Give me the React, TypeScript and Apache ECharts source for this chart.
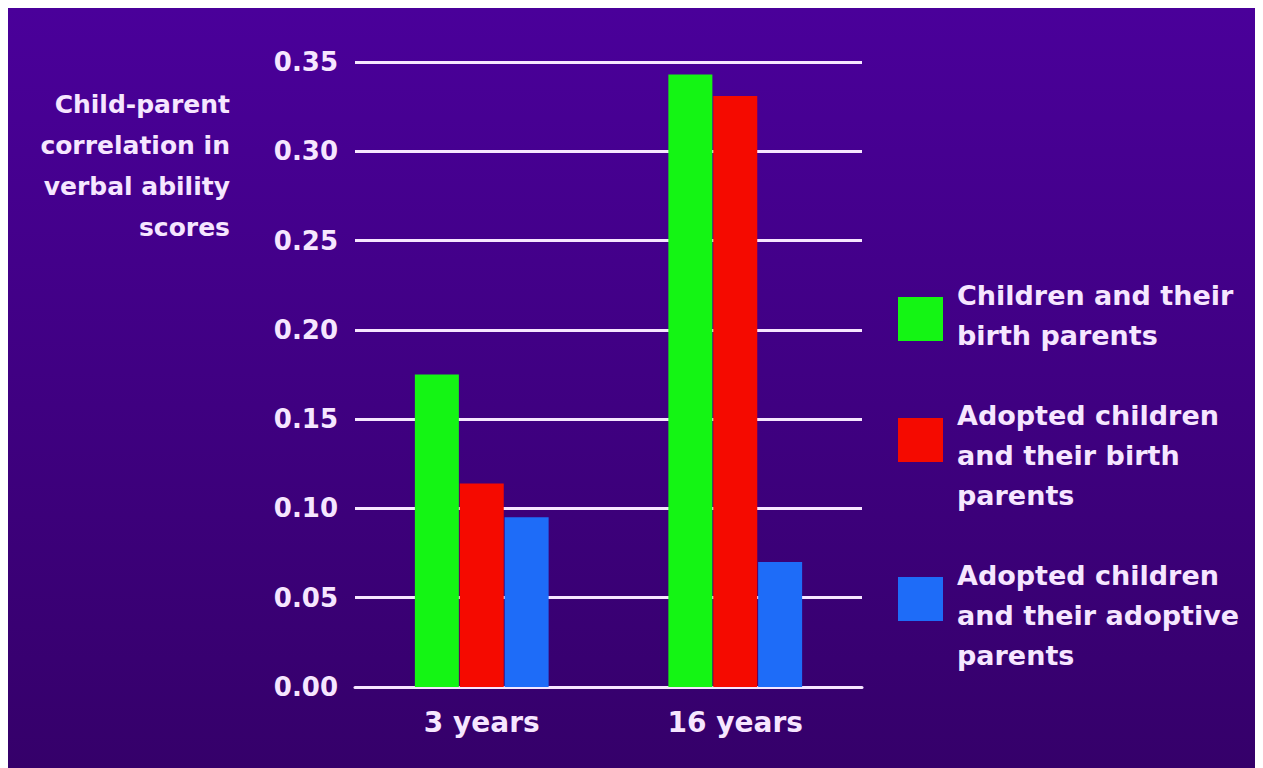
import React, { useEffect, useRef } from "react";
import * as echarts from "echarts";

const categories = ["3 years", "16 years"];
const seriesNames = [
  "Children and their\nbirth parents",
  "Adopted children\nand their birth\nparents",
  "Adopted children\nand their adoptive\nparents",
];
const birthFamily = [0.175, 0.343];
const adoptedBirth = [0.114, 0.331];
const adoptedAdoptive = [0.095, 0.07];
const seriesColors = ["#14f514", "#f50a00", "#1e6cf8"];
const yTitle = "Child-parent\ncorrelation in\nverbal ability\nscores";

const TEXT = "#f6e6ff";
const FONT = "'DejaVu Sans', Verdana, sans-serif";

export default function App() {
  const ref = useRef<HTMLDivElement>(null);
  useEffect(() => {
    if (!ref.current) return;
    const chart = echarts.init(ref.current, null, { renderer: "svg" });
    const values = [birthFamily, adoptedBirth, adoptedAdoptive];
    const legendTops = [289, 410, 569];
    const legendTextTops = [267.5, 387.5, 547.5];
    const graphic: any[] = [
      {
        type: "text",
        right: 1255 - 222,
        top: 76,
        style: {
          text: yTitle,
          fill: TEXT,
          font: `bold 25px ${FONT}`,
          textAlign: "right",
          lineHeight: 41,
        },
      },
    ];
    seriesNames.forEach((n, i) => {
      graphic.push({
        type: "rect",
        shape: { x: 890, y: legendTops[i], width: 45, height: 44 },
        style: { fill: seriesColors[i] },
      });
      graphic.push({
        type: "text",
        x: 949,
        y: legendTextTops[i],
        style: {
          text: n,
          fill: TEXT,
          font: `bold 27px ${FONT}`,
          lineHeight: 40,
          textVerticalAlign: "top",
        },
      });
    });
    chart.setOption({
      animation: false,
      backgroundColor: {
        type: "linear",
        x: 0,
        y: 0,
        x2: 0,
        y2: 1,
        colorStops: [
          { offset: 0, color: "#4a009a" },
          { offset: 1, color: "#35006a" },
        ],
      },
      grid: { left: 347, right: 401, top: 54, bottom: 81 },
      xAxis: {
        type: "category",
        data: categories,
        axisLine: { show: true, lineStyle: { color: TEXT, width: 3 } },
        axisTick: { show: false },
        axisLabel: {
          color: TEXT,
          fontFamily: FONT,
          fontWeight: "bold",
          fontSize: 28,
          margin: 21,
        },
      },
      yAxis: {
        type: "value",
        min: 0,
        max: 0.35,
        interval: 0.05,
        axisLine: { show: false },
        axisTick: { show: false },
        splitLine: { lineStyle: { color: TEXT, width: 3 } },
        axisLabel: {
          color: TEXT,
          fontFamily: FONT,
          fontWeight: "bold",
          fontSize: 26,
          margin: 17,
          formatter: (v: number) => v.toFixed(2),
        },
      },
      series: seriesNames.map((n, i) => ({
        type: "bar",
        name: n,
        data: values[i],
        barWidth: 44,
        barGap: "2%",
        itemStyle: { color: seriesColors[i] },
      })),
      graphic,
    });
    return () => chart.dispose();
  }, []);
  return <div ref={ref} style={{ width: 1255, height: 760 }} />;
}
